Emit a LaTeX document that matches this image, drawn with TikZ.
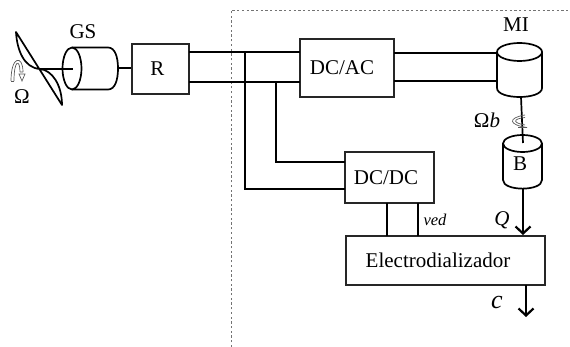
\documentclass[tikz,border=0pt]{standalone}
\usepackage{fontspec}
\setmainfont{Liberation Serif}
\usetikzlibrary{arrows.meta}
\tikzset{
  box/.style={draw=black!85,line width=1.7pt,rectangle,inner sep=0pt,font=\fontsize{21}{23}\selectfont},
  wire/.style={draw=black,line width=1.7pt},
  thin wire/.style={draw=black,line width=1.3pt},
  flow/.style={draw=black,line width=2.2pt,-{Straight Barb[length=7pt,width=15pt,line width=2.2pt]}},
  lab/.style={inner sep=0pt,font=\fontsize{21}{23}\selectfont},
  frame/.style={draw=black!55,line width=0.7pt,dash pattern=on 2.3pt off 2.4pt},
  rot/.style={draw=black!65,line width=0.7pt},
}
\begin{document}
\begin{tikzpicture}[x=1pt,y=-1pt]
\useasboundingbox (0,0) rectangle (570,347);
% dashed frame
\draw[frame] (231,347) -- (231,10) -- (568,10);
% boxes
\node[box,minimum width=57pt,minimum height=50pt] (r) at (160.5,69) {\hspace*{-6pt}R};
\node[box,minimum width=94pt,minimum height=58pt] (dcac) at (347,68) {\hspace*{-10pt}DC/AC};
\node[box,minimum width=89pt,minimum height=51pt] (dcdc) at (389.5,177.5) {\hspace*{-7pt}DC/DC};
\node[box,minimum width=199pt,minimum height=49pt] (ed) at (445.5,260.5) {\hspace*{-15pt}Electrodializador};
% coordinates
\coordinate (rt) at (189,52);
\coordinate (rb) at (189,82);
\coordinate (j1) at (245,52);
\coordinate (j3) at (276,82);
\coordinate (c1) at (245,189);
\coordinate (c2) at (276,162);
\coordinate (act) at (300,52);
\coordinate (acb) at (300,82);
\coordinate (art) at (394,53);
\coordinate (arb) at (394,81);
\coordinate (mt) at (497,53);
\coordinate (mb) at (497,81);
\coordinate (dl1) at (345,162);
\coordinate (dl2) at (345,189);
% wires
\draw[wire] (rt) -- (act);
\draw[wire] (rb) -- (acb);
\draw[wire] (j1) -- (c1) -- (dl2);
\draw[wire] (j3) -- (c2) -- (dl1);
\draw[wire] (art) -- (mt);
\draw[wire] (arb) -- (mb);
\draw[wire] (387,203) -- (387,236);
\draw[thin wire] (418,203) -- (418,236);
% GS
\draw[wire,fill=white] (72,47.5) -- (108,47.5) .. controls (115,47.5) and (118,57) .. (118,68.5) .. controls (118,80) and (115,89.5) .. (108,89.5) -- (72,89.5);
\draw[wire,fill=white] (72,68.5) ellipse (9.5pt and 21pt);
\draw[thin wire] (118,68) -- (r.west |- 0,68);
% blade
\draw[wire,line join=round] (16,32) .. controls (17,50) and (24,68) .. (40,69) .. controls (52,70) and (62,85) .. (62,105) -- cycle;
\draw[wire] (40,69) -- (73,69);
\node[lab] (gs) at (83,32) {GS};
\node[lab] (om) at (22,97) {Ω};
% rotation glyph
\draw[rot] (11,81) .. controls (11,55) and (23,55) .. (23,72);
\draw[rot] (14,81) .. controls (14,59) and (20,59) .. (20,72);
\draw[rot] (11,81) -- (14,81);
\draw[rot] (20,72) -- (23,72) (19,74) -- (22,81) -- (25,74) -- cycle;
% MI
\draw[wire,fill=white] (497,52) -- (497,88) .. controls (497,100) and (542,100) .. (542,88) -- (542,52);
\draw[wire,fill=white] (519.5,52) ellipse (22.5pt and 9pt);
\node[lab] (mi) at (516,25) {MI};
% B
\draw[wire,fill=white] (503,143) -- (503,180) .. controls (503,191.5) and (542,191.5) .. (542,180) -- (542,143);
\draw[wire,fill=white] (522.5,143.5) ellipse (19.5pt and 8.5pt);
\node[lab] (b) at (520,164) {B};
\draw[wire] (521,97) -- (523,143);
% spiral
\draw[rot] (525,115) .. controls (507,118) and (509,125) .. (527,127.5) -- (518,127.5);
\draw[rot] (525,117.5) .. controls (512,119) and (513,123) .. (525,125);
\node[lab] (omb) at (487,120) {Ω\textit{b}};
% flows
\draw[flow] (523,189) -- (523,235);
\draw[flow] (526,285) -- (526,317);
\node[lab] (q) at (502,220) {\textit{Q}};
\node[lab,font=\fontsize{26}{28}\selectfont] (cl) at (497,303) {\textit{c}};
\node[lab,font=\fontsize{16.5}{18}\selectfont] (ved) at (435,220) {\textit{ved}};
\end{tikzpicture}
\end{document}
